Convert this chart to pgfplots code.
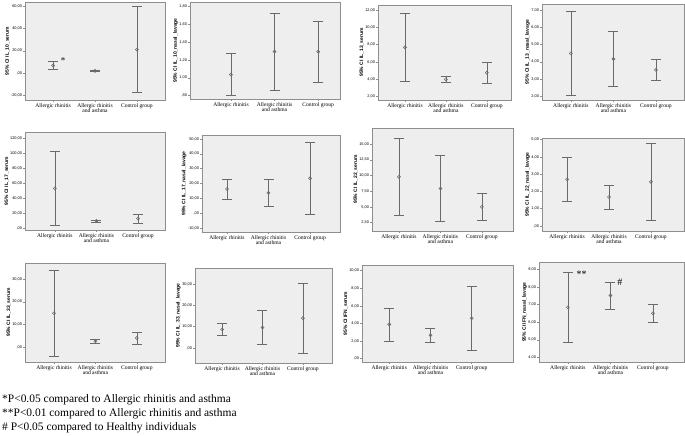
\documentclass[border=0pt]{standalone}
\usepackage{fontspec}
\setmainfont{Liberation Serif}
\setsansfont{Liberation Sans}
\usepackage{pgfplots}
\pgfplotsset{compat=1.18}
\definecolor{bgc}{HTML}{EEEEEE}
\definecolor{bordc}{HTML}{8E8E8E}
\definecolor{barc}{HTML}{6A6A6A}
\pgfplotsset{
 panel/.style={
   scale only axis, anchor=north west,
   axis background/.style={fill=bgc},
   axis line style={draw=bordc, line width=0.6bp},
   xtick={0,1,2},
   xticklabels={Allergic rhinitis, {Allergic rhinitis\\and asthma}, Control group},
   xticklabel style={font=\fontsize{5.6}{5.6}\selectfont, align=center, inner sep=1bp},
   yticklabel style={font=\fontsize{3.9}{4}\sffamily, inner sep=0.8bp},
   ylabel style={font=\fontsize{5}{6}\sffamily\bfseries, inner sep=0.5bp},
   tick style={draw=bordc, line width=0.5bp},
   major tick length=2bp,
   tick align=outside, xtick pos=bottom, ytick pos=left,
   clip=false,
 },
 ci/.style={only marks, mark=o, mark size=1.5bp, color=barc, line width=0.6bp,
   error bars/.cd, y dir=both, y explicit,
   error bar style={color=barc, line width=0.6bp},
   error mark options={rotate=90, mark size=5bp, color=barc, line width=0.6bp}},
}
\begin{document}
\begin{tikzpicture}
\path[use as bounding box] (0,0) rectangle (685bp,-436bp);
% Row 1
\begin{axis}[panel, at={(25bp,-2bp)}, width=140bp, height=98bp,
  xmin=-0.67, xmax=2.67, ymin=-23.8, ymax=63.6,
  ytick={-20,0,20,40,60}, yticklabels={{-20,00},{,00},{20,00},{40,00},{60,00}},
  ylabel={95\% CI IL\_10\_serum}]
\addplot[ci] coordinates {(0,6.9) +- (0,3.55) (1,2.2) +- (0,0.75) (2,21.2) +- (0,38.5)};
\node[font=\fontsize{9}{9}\selectfont] at (axis cs:0.24,11.5) {*};
\end{axis}
\begin{axis}[panel, at={(190bp,-2bp)}, width=150bp, height=97bp,
  xmin=-0.94, xmax=2.5, ymin=0.763, ymax=1.848,
  ytick={0.8,1.0,1.2,1.4,1.6,1.8}, yticklabels={{,80},{1,00},{1,20},{1,40},{1,60},{1,80}},
  ylabel={95\% CI IL\_10\_nasal\_lavage}]
\addplot[ci] coordinates {(0,1.035) +- (0,0.235) (1,1.294) +- (0,0.432) (2,1.292) +- (0,0.344)};
\end{axis}
\begin{axis}[panel, at={(378bp,-5bp)}, width=133bp, height=95bp,
  xmin=-0.66, xmax=2.59, ymin=1.62, ymax=12.58,
  ytick={2,4,6,8,10,12}, yticklabels={{2,00},{4,00},{6,00},{8,00},{10,00},{12,00}},
  ylabel={95\% CI IL\_13\_serum}]
\addplot[ci] coordinates {(0,7.69) +- (0,3.88) (1,4.0) +- (0,0.35) (2,4.77) +- (0,1.23)};
\end{axis}
\begin{axis}[panel, at={(542bp,-4bp)}, width=142bp, height=96bp,
  xmin=-0.68, xmax=2.66, ymin=1.79, ymax=7.35,
  ytick={2,3,4,5,6,7}, yticklabels={{2,00},{3,00},{4,00},{5,00},{6,00},{7,00}},
  ylabel={95\% CI IL\_13\_nasal\_lavage}]
\addplot[ci] coordinates {(0,4.49) +- (0,2.45) (1,4.17) +- (0,1.57) (2,3.53) +- (0,0.6)};
\end{axis}
% Row 2
\begin{axis}[panel, at={(25bp,-132bp)}, width=140bp, height=98bp,
  xmin=-0.72, xmax=2.65, ymin=-2.2, ymax=128.9,
  ytick={0,20,40,60,80,100,120}, yticklabels={{,00},{20,00},{40,00},{60,00},{80,00},{100,00},{120,00}},
  ylabel={95\% CI IL\_17\_serum}]
\addplot[ci] coordinates {(0,53.5) +- (0,49.3) (1,10) +- (0,1.4) (2,13.2) +- (0,6.2)};
\end{axis}
\begin{axis}[panel, at={(202bp,-135bp)}, width=138bp, height=97bp,
  xmin=-0.6, xmax=2.72, ymin=-12.7, ymax=52.7,
  ytick={-10,0,10,20,30,40,50}, yticklabels={{-10,00},{,00},{10,00},{20,00},{30,00},{40,00},{50,00}},
  ylabel={95\% CI IL\_17\_nasal\_lavage}]
\addplot[ci] coordinates {(0,16.3) +- (0,6.85) (1,13.8) +- (0,9.35) (2,23.5) +- (0,24)};
\end{axis}
\begin{axis}[panel, at={(372bp,-128bp)}, width=141bp, height=103bp,
  xmin=-0.65, xmax=2.75, ymin=1.17, ymax=17.55,
  ytick={2.5,5,7.5,10,12.5,15}, yticklabels={{2,50},{5,00},{7,50},{10,00},{12,50},{15,00}},
  ylabel={95\% CI IL\_22\_serum}]
\addplot[ci] coordinates {(0,9.78) +- (0,6.18) (1,7.93) +- (0,5.27) (2,5.0) +- (0,2.18)};
\end{axis}
\begin{axis}[panel, at={(542bp,-138bp)}, width=142bp, height=93bp,
  xmin=-0.6, xmax=2.79, ymin=-0.29, ymax=5.1,
  ytick={0,1,2,3,4,5}, yticklabels={{,00},{1,00},{2,00},{3,00},{4,00},{5,00}},
  ylabel={95\% CI IL\_22\_nasal\_lavage}]
\addplot[ci] coordinates {(0,2.7) +- (0,1.27) (1,1.68) +- (0,0.7) (2,2.56) +- (0,2.25)};
\end{axis}
% Row 3
\begin{axis}[panel, at={(25bp,-263bp)}, width=140bp, height=99bp,
  xmin=-0.7, xmax=2.68, ymin=-6.5, ymax=37.1,
  ytick={0,10,20,30}, yticklabels={{,00},{10,00},{20,00},{30,00}},
  ylabel={95\% CI IL\_33\_serum}]
\addplot[ci] coordinates {(0,15) +- (0,19) (1,2.7) +- (0,0.9) (2,4.05) +- (0,2.75)};
\end{axis}
\begin{axis}[panel, at={(195bp,-268bp)}, width=137bp, height=95bp,
  xmin=-0.67, xmax=2.72, ymin=-7, ymax=37.5,
  ytick={0,10,20,30}, yticklabels={{,00},{10,00},{20,00},{30,00}},
  ylabel={95\% CI IL\_33\_nasal\_lavage}]
\addplot[ci] coordinates {(0,8.75) +- (0,2.85) (1,9.65) +- (0,8.05) (2,14) +- (0,16.3)};
\end{axis}
\begin{axis}[panel, at={(362bp,-265bp)}, width=151bp, height=97bp,
  xmin=-0.66, xmax=3.0, ymin=-0.38, ymax=10.65,
  ytick={0,2,4,6,8,10}, yticklabels={{,00},{2,00},{4,00},{6,00},{8,00},{10,00}},
  ylabel={95\% CI IFN\_serum}]
\addplot[ci] coordinates {(0,3.9) +- (0,1.88) (1,2.66) +- (0,0.76) (2,4.6) +- (0,3.6)};
\end{axis}
\begin{axis}[panel, at={(539bp,-262bp)}, width=145bp, height=100bp,
  xmin=-0.68, xmax=2.73, ymin=3.73, ymax=9.44,
  ytick={4,5,6,7,8,9}, yticklabels={{4,00},{5,00},{6,00},{7,00},{8,00},{9,00}},
  ylabel={95\% CI IFN\_nasal\_lavage}]
\addplot[ci] coordinates {(0,6.85) +- (0,2.02) (1,7.53) +- (0,0.77) (2,6.51) +- (0,0.49)};
\node[font=\fontsize{10}{10}\selectfont] at (axis cs:0.32,8.72) {**};
\node[font=\fontsize{10}{10}\selectfont] at (axis cs:1.22,8.3) {\#};
\end{axis}
% Footnotes
\node[anchor=west, inner sep=0pt, font=\fontsize{11.5}{14}\selectfont] at (2bp,-400bp) {*P<0.05 compared to Allergic rhinitis and asthma};
\node[anchor=west, inner sep=0pt, font=\fontsize{11.5}{14}\selectfont] at (2bp,-414bp) {**P<0.01 compared to Allergic rhinitis and asthma};
\node[anchor=west, inner sep=0pt, font=\fontsize{11.5}{14}\selectfont] at (2bp,-428bp) {\# P<0.05 compared to Healthy individuals};
\end{tikzpicture}
\end{document}
